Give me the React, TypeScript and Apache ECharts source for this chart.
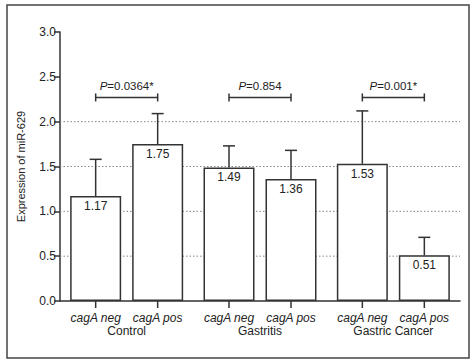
import React, { useEffect, useRef } from "react";
import * as echarts from "echarts";

const groups = ["Control", "Gastritis", "Gastric Cancer"];
const subLabels = ["cagA neg", "cagA pos"];
const negMeans = [1.17, 1.49, 1.53];
const posMeans = [1.75, 1.36, 0.51];
const negUpper = [1.58, 1.73, 2.12];
const posUpper = [2.09, 1.68, 0.71];
const pLevels = [2.27, 2.27, 2.27];
const pValues = ["=0.0364*", "=0.854", "=0.001*"];
const gridLevels = [0.5, 1.0, 1.5, 2.0];
const yTicks = { min: 0, max: 3, interval: 0.5 };

const FONT = "'Liberation Sans', Arial, Helvetica, sans-serif";
const BAR_W = 51;
const BAR_GAP = 11;
const HALF = (BAR_W + BAR_GAP) / 2;
const INK = "#333";
const TEXT = "#222";

export default function App() {
  const ref = useRef<HTMLDivElement>(null);
  useEffect(() => {
    const chart = echarts.init(ref.current!, undefined, { renderer: "svg" });

    const errData: any[] = [];
    groups.forEach((g, i) => {
      errData.push([i, 0, negMeans[i], negUpper[i], subLabels[0]]);
      errData.push([i, 1, posMeans[i], posUpper[i], subLabels[1]]);
    });
    const brData = groups.map((g, i) => [i, pLevels[i], pValues[i]]);
    const gridData = gridLevels.map((v) => [0, v]);

    const option: any = {
      animation: false,
      textStyle: { fontFamily: FONT },
      grid: { left: 60, right: 14, top: 32, bottom: 62 },
      graphic: [
        {
          type: "rect",
          shape: { x: 7, y: 5, width: 462, height: 353 },
          style: { fill: "none", stroke: "#444", lineWidth: 1.5 },
          z: 100,
        },
      ],
      xAxis: {
        type: "category",
        data: groups,
        axisLine: { lineStyle: { color: INK, width: 1.5 } },
        axisTick: { show: false },
        axisLabel: { margin: 24, fontSize: 12, color: TEXT, fontFamily: FONT },
        splitLine: { show: false },
      },
      yAxis: {
        type: "value",
        min: yTicks.min,
        max: yTicks.max,
        interval: yTicks.interval,
        name: "Expression of miR-629",
        nameLocation: "middle",
        nameGap: 34,
        nameTextStyle: { fontSize: 11, color: TEXT, fontFamily: FONT },
        axisLine: { show: true, lineStyle: { color: INK, width: 1.5 } },
        axisTick: { show: true, length: 6, lineStyle: { color: INK, width: 1.5 } },
        axisLabel: {
          fontSize: 12,
          color: TEXT,
          margin: 4,
          fontFamily: FONT,
          formatter: (v: number) => v.toFixed(1),
        },
        splitLine: { show: false },
      },
      series: [
        {
          type: "custom",
          z: 1,
          silent: true,
          encode: { x: 0, y: 1 },
          data: gridData,
          renderItem: (params: any, api: any) => {
            const cs = params.coordSys;
            const y = api.coord([0, api.value(1)])[1];
            return {
              type: "line",
              shape: { x1: cs.x, y1: y, x2: cs.x + cs.width, y2: y },
              style: { stroke: "#888", lineWidth: 1, lineDash: [1.5, 2] },
            };
          },
        },
        {
          type: "bar",
          name: subLabels[0],
          z: 2,
          data: negMeans,
          barWidth: BAR_W,
          barGap: (BAR_GAP / BAR_W) * 100 + "%",
          itemStyle: { color: "#fff", borderColor: INK, borderWidth: 1.5 },
          label: {
            show: true,
            position: "insideTop",
            distance: 4,
            fontSize: 12,
            color: TEXT,
            fontFamily: FONT,
            formatter: (p: any) => Number(p.value).toFixed(2),
          },
        },
        {
          type: "bar",
          name: subLabels[1],
          z: 2,
          data: posMeans,
          barWidth: BAR_W,
          barGap: (BAR_GAP / BAR_W) * 100 + "%",
          itemStyle: { color: "#fff", borderColor: INK, borderWidth: 1.5 },
          label: {
            show: true,
            position: "insideTop",
            distance: 4,
            fontSize: 12,
            color: TEXT,
            fontFamily: FONT,
            formatter: (p: any) => Number(p.value).toFixed(2),
          },
        },
        {
          type: "custom",
          z: 3,
          silent: true,
          clip: false,
          encode: { x: 0, y: 3 },
          data: errData,
          renderItem: (params: any, api: any) => {
            const cat = api.value(0);
            const s = api.value(1);
            const base = api.coord([cat, 0]);
            const cx = base[0] + (s === 0 ? -HALF : HALF);
            const yTop = api.coord([cat, api.value(2)])[1];
            const yUp = api.coord([cat, api.value(3)])[1];
            const lbl = errData[params.dataIndex][4];
            const st = { stroke: INK, lineWidth: 1.5 };
            return {
              type: "group",
              children: [
                { type: "line", shape: { x1: cx, y1: yTop, x2: cx, y2: yUp }, style: st },
                { type: "line", shape: { x1: cx - 6, y1: yUp, x2: cx + 6, y2: yUp }, style: st },
                { type: "line", shape: { x1: cx, y1: base[1], x2: cx, y2: base[1] + 7 }, style: st },
                {
                  type: "text",
                  x: cx,
                  y: base[1] + 17,
                  style: {
                    text: lbl,
                    fontSize: 12,
                    fontStyle: "italic",
                    fontFamily: FONT,
                    fill: TEXT,
                    align: "center",
                    verticalAlign: "middle",
                  },
                },
              ],
            };
          },
        },
        {
          type: "custom",
          z: 3,
          silent: true,
          clip: false,
          encode: { x: 0, y: 1 },
          data: brData,
          renderItem: (params: any, api: any) => {
            const cat = api.value(0);
            const p = api.coord([cat, api.value(1)]);
            const x1 = p[0] - HALF;
            const x2 = p[0] + HALF;
            const y = p[1];
            const st = { stroke: INK, lineWidth: 1.5 };
            const txt = brData[params.dataIndex][2];
            return {
              type: "group",
              children: [
                { type: "line", shape: { x1, y1: y, x2, y2: y }, style: st },
                { type: "line", shape: { x1, y1: y - 4, x2: x1, y2: y + 4 }, style: st },
                { type: "line", shape: { x1: x2, y1: y - 4, x2, y2: y + 4 }, style: st },
                {
                  type: "text",
                  x: p[0],
                  y: y - 5,
                  style: {
                    text: "{i|P}{n|" + txt + "}",
                    rich: {
                      i: { fontStyle: "italic", fontSize: 11.5, fontFamily: FONT, fill: TEXT, color: TEXT },
                      n: { fontSize: 11.5, fontFamily: FONT, fill: TEXT, color: TEXT },
                    },
                    align: "center",
                    verticalAlign: "bottom",
                  },
                },
              ],
            };
          },
        },
      ],
    };
    chart.setOption(option);
    return () => chart.dispose();
  }, []);
  return (
    <div
      ref={ref}
      style={{ position: "fixed", left: 0, top: 0, width: 474, height: 363, background: "#fff" }}
    />
  );
}
